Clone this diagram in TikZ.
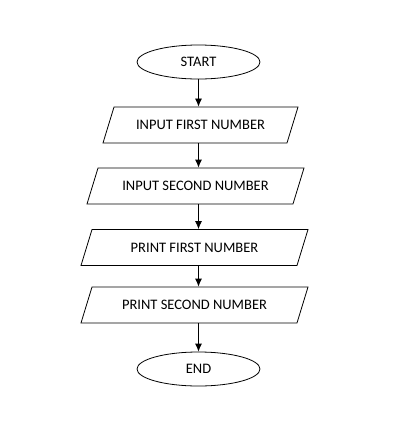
\documentclass[tikz,border=0pt]{standalone}
\usepackage{fontspec}
\setmainfont{Carlito}
\usepackage{tikz}
\usetikzlibrary{shapes.geometric, arrows.meta, positioning}

\tikzset{
  term/.style={draw, ellipse, minimum width=123pt, minimum height=34pt, inner sep=0pt},
  io/.style={draw, trapezium, trapezium left angle=73, trapezium right angle=107,
    trapezium stretches body=true, text height=9pt, text depth=0pt,
    inner xsep=0pt, inner ysep=13.5pt}
}

\begin{document}
\begin{tikzpicture}[x=1pt, y=-1pt, >={Latex[length=8pt,width=7pt]}, line width=0.8pt,
  font=\fontsize{14.5}{17}\selectfont]
\useasboundingbox (0,0) rectangle (401,424);
\node[term] (start) at (198.5,62) {START};
\node[io, minimum width=195pt] (in1) at (200.5,125) {INPUT FIRST NUMBER};
\node[io, minimum width=217pt] (in2) at (195.5,186) {INPUT SECOND NUMBER};
\node[io, minimum width=227pt] (out1) at (194.5,247.5) {PRINT FIRST NUMBER};
\node[io, minimum width=227pt] (out2) at (194.5,305) {PRINT SECOND NUMBER};
\node[term] (stop) at (198.5,369) {END};
\draw[->] (start) -- (in1.north -| start);
\draw[->] (in1.south -| start) -- (in2.north -| start);
\draw[->] (in2.south -| start) -- (out1.north -| start);
\draw[->] (out1.south -| start) -- (out2.north -| start);
\draw[->] (out2.south -| start) -- (stop);
\end{tikzpicture}
\end{document}
